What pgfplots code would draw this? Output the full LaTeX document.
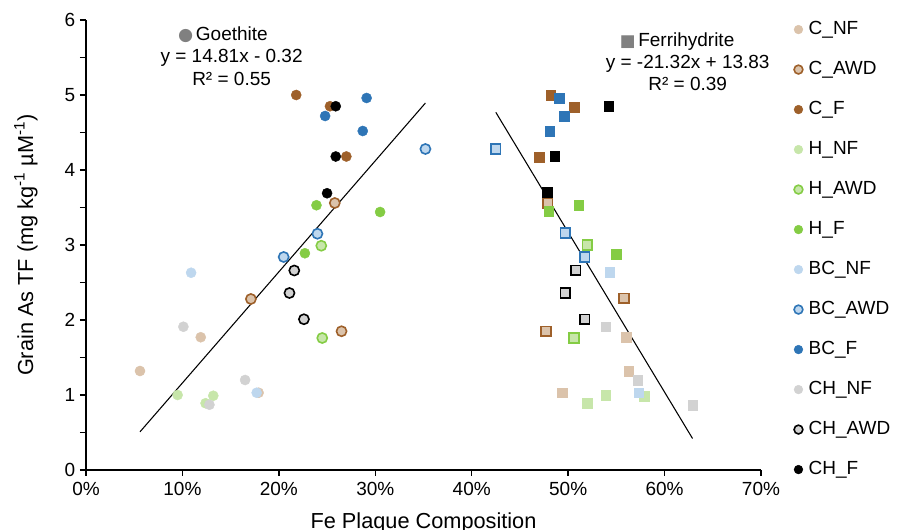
\documentclass[border=0pt]{standalone}
\usepackage{pgfplots}
\pgfplotsset{compat=1.18}
\usepackage{fontspec}
\setmainfont{Liberation Sans}
\newfontfamily\symfont{DejaVu Sans}
\definecolor{cnf}{RGB}{219,195,171}
\definecolor{cf}{RGB}{158,96,42}
\definecolor{hnf}{RGB}{199,230,170}
\definecolor{hf}{RGB}{132,204,68}
\definecolor{bnf}{RGB}{190,215,238}
\definecolor{bf}{RGB}{46,117,182}
\definecolor{chnf}{RGB}{210,210,210}
\definecolor{gmark}{RGB}{128,128,128}
\pgfplotsset{
  gc/.style={only marks, mark=*, mark size=3.8pt},
  fs/.style={only marks, mark=square*, mark size=3.6pt, forget plot},
  pNF/.style={color=#1, mark options={fill=#1, draw=#1, line width=0.3pt}},
  pAWD/.style n args={2}{color=#2, mark options={fill=#1, draw=#2, line width=1.2pt}},
}
\begin{document}
\begin{tikzpicture}
\begin{axis}[
  name=ax,
  scale only axis, width=506.25pt, height=337.5pt,
  xmin=0, xmax=70, ymin=0, ymax=6,
  axis lines*=left, axis line style={black, line width=1.1pt, -},
  xtick={0,10,...,70}, xticklabels={0\%,10\%,20\%,30\%,40\%,50\%,60\%,70\%},
  ytick={0,1,...,6}, minor y tick num=1,
  tick style={black, line width=1.1pt},
  tick align=outside, major tick length=4.5pt, minor tick length=4.5pt,
  /pgf/number format/assume math mode=true,
  tick label style={font=\fontsize{14.25}{17}\selectfont},
  xticklabel style={yshift=-1.5pt},
  xlabel={Fe Plaque Composition},
  ylabel={Grain As TF (mg kg\textsuperscript{-1} µM\textsuperscript{-1})},
  label style={font=\fontsize{16.3}{19.5}\selectfont},
  xlabel style={at={(axis description cs:0.5,-0.1311)}, anchor=base},
  ylabel style={at={(axis description cs:-0.0785,0.5)}, anchor=base},
  clip=false,
  legend cell align=left,
  legend style={at={(axis description cs:1.049,0.998)}, anchor=north west, draw=none, fill=none,
    inner sep=0pt, outer sep=0pt, row sep=17pt, font=\fontsize{14.25}{17}\selectfont,
    nodes={inner xsep=4.4pt, inner ysep=0pt, text height=10pt, text depth=3pt}},
  legend image code/.code={\draw[#1, mark size=3.3pt] plot coordinates {(0pt,0pt)};},
]
% ---------- Goethite (circles) ----------
\addplot[gc, pNF=cnf] coordinates {(5.6,1.32) (11.9,1.77) (17.9,1.03)};
\addlegendentry{C\_NF}
\addplot[gc, pAWD={cnf}{cf}] coordinates {(17.1,2.28) (25.8,3.56) (26.5,1.85)};
\addlegendentry{C\_AWD}
\addplot[gc, pNF=cf] coordinates {(21.8,5.00) (25.3,4.85) (27.0,4.18)};
\addlegendentry{C\_F}
\addplot[gc, pNF=hnf] coordinates {(9.5,1.00) (12.4,0.89) (13.2,0.99)};
\addlegendentry{H\_NF}
\addplot[gc, pAWD={hnf}{hf}] coordinates {(24.4,2.99) (24.5,1.76)};
\addlegendentry{H\_AWD}
\addplot[gc, pNF=hf] coordinates {(22.7,2.89) (23.9,3.53) (30.5,3.44)};
\addlegendentry{H\_F}
\addplot[gc, pNF=bnf] coordinates {(10.9,2.63) (17.7,1.03)};
\addlegendentry{BC\_NF}
\addplot[gc, pAWD={bnf}{bf}] coordinates {(20.5,2.84) (24.0,3.15) (35.2,4.28)};
\addlegendentry{BC\_AWD}
\addplot[gc, pNF=bf] coordinates {(29.1,4.96) (24.8,4.72) (28.7,4.52)};
\addlegendentry{BC\_F}
\addplot[gc, pNF=chnf] coordinates {(10.1,1.91) (12.8,0.87) (16.5,1.20)};
\addlegendentry{CH\_NF}
\addplot[gc, pAWD={chnf}{black}] coordinates {(21.6,2.66) (21.1,2.36) (22.6,2.01)};
\addlegendentry{CH\_AWD}
\addplot[gc, pNF=black] coordinates {(25.9,4.85) (25.9,4.18) (25.0,3.69)};
\addlegendentry{CH\_F}
% ---------- Ferrihydrite (squares) ----------
\addplot[fs, pNF=cnf] coordinates {(56.3,1.32) (56.0,1.77) (49.4,1.03)};
\addplot[fs, pAWD={cnf}{cf}] coordinates {(55.8,2.29) (47.9,3.56) (47.7,1.85)};
\addplot[fs, pNF=cf] coordinates {(48.2,5.00) (50.6,4.84) (47.0,4.17)};
\addplot[fs, pNF=hnf] coordinates {(53.9,1.00) (52.0,0.89) (57.9,0.98)};
\addplot[fs, pAWD={hnf}{hf}] coordinates {(52.0,3.00) (50.6,1.76)};
\addplot[fs, pNF=hf] coordinates {(55.0,2.88) (51.1,3.53) (48.0,3.45)};
\addplot[fs, pNF=bnf] coordinates {(54.3,2.64) (57.3,1.03)};
\addplot[fs, pAWD={bnf}{bf}] coordinates {(51.7,2.84) (49.7,3.16) (42.5,4.28)};
\addplot[fs, pNF=bf] coordinates {(49.1,4.96) (49.6,4.72) (48.1,4.52)};
\addplot[fs, pNF=chnf] coordinates {(53.9,1.91) (62.9,0.86) (57.2,1.20)};
\addplot[fs, pAWD={chnf}{black}] coordinates {(50.8,2.66) (49.7,2.36) (51.7,2.01)};
\addplot[fs, pNF=black] coordinates {(54.2,4.85) (48.6,4.18) (47.8,3.70)};
% ---------- trend lines ----------
\addplot[black, line width=0.8pt, no marks, forget plot] coordinates {(5.6,0.509) (35.2,4.893)};
\addplot[black, line width=0.8pt, no marks, forget plot] coordinates {(42.5,4.769) (62.9,0.420)};
% ---------- annotations ----------
\node[font=\fontsize{14.25}{17}\selectfont] at (axis cs:14.2,5.81) {{\symfont\fontsize{13}{14}\selectfont\color{gmark}●}\hspace{2pt}Goethite};
\node[font=\fontsize{14.25}{17}\selectfont] at (axis cs:15.1,5.50) {y = 14.81x - 0.32};
\node[font=\fontsize{14.25}{17}\selectfont] at (axis cs:15.1,5.22) {R² = 0.55};
\node[font=\fontsize{14.25}{17}\selectfont] at (axis cs:61.3,5.71) {{\symfont\fontsize{12.5}{14}\selectfont\color{gmark}■}\hspace{2pt}Ferrihydrite};
\node[font=\fontsize{14.25}{17}\selectfont] at (axis cs:62.4,5.41) {y = -21.32x + 13.83};
\node[font=\fontsize{14.25}{17}\selectfont] at (axis cs:62.4,5.15) {R² = 0.39};
\end{axis}
\pgfresetboundingbox
\useasboundingbox ([xshift=-64.5pt,yshift=-45pt]ax.south west) rectangle ([xshift=102.75pt,yshift=15pt]ax.north east);
\end{tikzpicture}
\end{document}
